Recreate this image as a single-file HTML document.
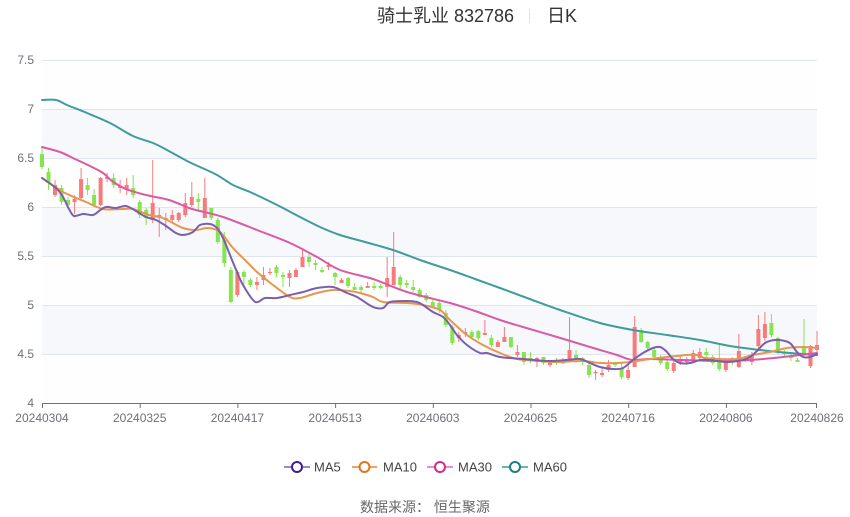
<!DOCTYPE html>
<html>
<head>
<meta charset="utf-8">
<style>
html,body{margin:0;padding:0;background:#fff;}
body{width:850px;height:517px;overflow:hidden;position:relative;font-family:"Liberation Sans","Noto Sans CJK SC",sans-serif;}
svg text{font-family:"Liberation Sans","Noto Sans CJK SC",sans-serif;}
</style>
</head>
<body>
<svg id="c" width="850" height="517" viewBox="0 0 850 517" xmlns="http://www.w3.org/2000/svg" style="position:absolute;left:0;top:0">
  <!-- title -->
  <text x="377" y="22" font-size="18" fill="#333">骑士乳业 832786</text>
  <line x1="529.5" y1="9" x2="529.5" y2="23" stroke="#e2e2e2" stroke-width="1"/>
  <text x="547" y="22" font-size="18" fill="#333">日K</text>

  <!-- split areas -->
  <rect x="42" y="60" width="775" height="49" fill="#fefefe"/>
  <rect x="42" y="109" width="775" height="49" fill="#f6f8fc"/>
  <rect x="42" y="158" width="775" height="49" fill="#fefefe"/>
  <rect x="42" y="207" width="775" height="49" fill="#f6f8fc"/>
  <rect x="42" y="256" width="775" height="49" fill="#fefefe"/>
  <rect x="42" y="305" width="775" height="49" fill="#f6f8fc"/>
  <rect x="42" y="354" width="775" height="49" fill="#fefefe"/>

  <!-- grid lines -->
  <g stroke="#e0e6f1" stroke-width="1">
    <line x1="42" y1="60.5" x2="817" y2="60.5"/>
    <line x1="42" y1="109.5" x2="817" y2="109.5"/>
    <line x1="42" y1="158.5" x2="817" y2="158.5"/>
    <line x1="42" y1="207.5" x2="817" y2="207.5"/>
    <line x1="42" y1="256.5" x2="817" y2="256.5"/>
    <line x1="42" y1="305.5" x2="817" y2="305.5"/>
    <line x1="42" y1="354.5" x2="817" y2="354.5"/>
  </g>

  <!-- y labels -->
  <g font-size="12" fill="#6e7079" text-anchor="end">
    <text x="34" y="64">7.5</text>
    <text x="34" y="113">7</text>
    <text x="34" y="162">6.5</text>
    <text x="34" y="211">6</text>
    <text x="34" y="260">5.5</text>
    <text x="34" y="309">5</text>
    <text x="34" y="358">4.5</text>
    <text x="34" y="407">4</text>
  </g>

  <!-- x axis -->
  <line x1="42" y1="403.5" x2="817" y2="403.5" stroke="#6e7079" stroke-width="1"/>
  <g stroke="#6e7079" stroke-width="1">
    <line x1="42.5" y1="403" x2="42.5" y2="408"/>
    <line x1="140.2" y1="403" x2="140.2" y2="408"/>
    <line x1="237.9" y1="403" x2="237.9" y2="408"/>
    <line x1="335.6" y1="403" x2="335.6" y2="408"/>
    <line x1="433.3" y1="403" x2="433.3" y2="408"/>
    <line x1="531" y1="403" x2="531" y2="408"/>
    <line x1="628.7" y1="403" x2="628.7" y2="408"/>
    <line x1="726.4" y1="403" x2="726.4" y2="408"/>
    <line x1="816.5" y1="403" x2="816.5" y2="408"/>
  </g>
  <g font-size="12" fill="#6e7079" text-anchor="middle">
    <text x="42" y="422">20240304</text>
    <text x="139.7" y="422">20240325</text>
    <text x="237.4" y="422">20240417</text>
    <text x="335.1" y="422">20240513</text>
    <text x="432.8" y="422">20240603</text>
    <text x="530.5" y="422">20240625</text>
    <text x="628.2" y="422">20240716</text>
    <text x="725.9" y="422">20240806</text>
    <text x="817" y="422">20240826</text>
  </g>

  <g id="cand"></g>
  <g id="lines" fill="none" stroke-width="2" stroke-linejoin="round" stroke-linecap="round"></g>

  <!-- legend -->
  <g stroke-width="2">
    <line x1="284" y1="467" x2="310" y2="467" stroke="#9d88cf"/>
    <circle cx="297" cy="467" r="5" fill="#fff" stroke="#3f1d8e"/>
    <line x1="352" y1="467" x2="377" y2="467" stroke="#efa466"/>
    <circle cx="364.5" cy="467" r="5" fill="#fff" stroke="#e0761c"/>
    <line x1="427" y1="467" x2="453" y2="467" stroke="#e88fc5"/>
    <circle cx="440" cy="467" r="5" fill="#fff" stroke="#d22c8c"/>
    <line x1="502" y1="467" x2="528" y2="467" stroke="#6db4b4"/>
    <circle cx="515" cy="467" r="5" fill="#fff" stroke="#1c7f7f"/>
  </g>
  <g font-size="13" fill="#444">
    <text x="314" y="471.5">MA5</text>
    <text x="383" y="471.5">MA10</text>
    <text x="458" y="471.5">MA30</text>
    <text x="533" y="471.5">MA60</text>
  </g>

  <!-- footer -->
  <text x="425" y="512" font-size="14" fill="#666" text-anchor="middle">数据来源： 恒生聚源</text>
</svg>
<script>
(function(){
  var NS="http://www.w3.org/2000/svg";
  // i, color(r/g), bodyTop, bodyBottom, wickTop, wickBottom (pixel y)
  var C=[
  ['g',154,167,148,169],['g',172,183,168,190],['r',185,195,180,197],['g',188,202,185,205],['g',200,205,197,208],
  ['r',199,202,195,214],['r',179,198,168,199],['g',185,190,178,195],['g',195,205,189,207],['r',178,205,177,206],
  ['r',177,179,173,182],['g',178,185,173,188],['r',186,188,180,193],['r',185,190,178,195],['g',188,195,175,198],
  ['g',202,215,200,218],['g',210,218,208,225],['r',203,220,160,223],['r',215,218,208,237],['r',218,220,213,230],
  ['r',215,220,210,222],['r',213,220,212,222],['r',203,215,193,217],['r',197,205,182,207],['g',199,202,193,212],
  ['r',198,218,178,218],['g',208,218,208,220],['g',220,242,218,244],['g',240,263,232,267],['g',270,302,267,303],
  ['r',272,295,270,297],['g',272,277,270,285],['g',280,285,278,287],['r',282,285,277,290],['r',275,280,267,285],
  ['r',272,273,268,275],['g',267,273,265,277],['g',275,277,272,287],['r',273,278,270,287],['r',270,277,268,277],
  ['r',257,267,248,267],['g',257,262,252,267],['g',263,265,260,270],['g',270,272,267,273],['r',265,267,262,270],
  ['g',273,277,272,285],['r',280,283,278,283],['g',278,286,277,288],['g',287,290,283,290],['g',287,290,285,293],
  ['r',286,288,282,288],['g',286,288,282,290],['g',286,288,284,289],['r',278,287,257,297],['r',267,285,232,285],
  ['g',277,285,275,290],['g',283,285,280,288],['g',287,290,280,292],['g',290,297,288,298],['g',295,300,293,302],
  ['g',302,307,300,308],['g',303,310,300,313],['g',313,325,310,327],['g',327,343,325,345],['r',335,338,332,342],
  ['r',332,334,328,337],['g',332,337,330,338],['g',331,338,330,340],['r',333,335,320,335],['g',338,345,335,347],
  ['r',342,347,340,347],['r',337,342,327,342],['g',337,347,337,348],['r',352,355,345,357],['g',352,362,352,365],
  ['g',358,360,352,363],['r',358,362,357,367],['g',357,363,357,365],['r',362,365,360,367],['g',360,362,358,365],
  ['r',360,363,358,364],['r',350,362,317,362],['g',355,358,350,363],['g',358,360,357,365],['g',365,375,363,378],
  ['r',372,373,370,380],['r',373,375,368,377],['r',365,370,360,372],['g',363,365,362,367],['g',368,377,362,379],
  ['r',370,378,363,380],['r',327,367,316,367],['g',330,342,328,343],['g',342,348,341,350],['g',350,357,348,360],
  ['g',357,363,355,365],['g',362,369,360,371],['r',363,371,360,373],['r',359,362,356,365],['r',359,362,357,365],
  ['r',353,360,350,363],['r',352,358,348,361],['g',352,355,348,357],['g',357,363,355,365],['g',360,369,343,371],
  ['r',360,370,358,372],['g',358,362,357,365],['r',351,367,334,368],['g',358,361,356,362],['r',356,362,352,365],
  ['r',329,346,315,350],['r',324,338,312,341],['g',323,335,314,337],['g',338,351,337,354],['g',352,354,350,356],
  ['g',356,358,353,361],['g',360,362,358,362],['g',348,355,319,357],['r',346,366,345,368],['r',345,350,331,353]
  ];
  var g=document.getElementById('cand');
  var step=775/119;
  for(var i=0;i<C.length;i++){
    var c=C[i], x=42+i*step;
    var col=c[0]==='r'?'#f77b7b':'#86e44e';
    var l=document.createElementNS(NS,'line');
    l.setAttribute('x1',x);l.setAttribute('x2',x);
    l.setAttribute('y1',c[3]);l.setAttribute('y2',c[4]);
    l.setAttribute('stroke',col);l.setAttribute('stroke-width','1');
    g.appendChild(l);
    var r=document.createElementNS(NS,'rect');
    var h=Math.max(1,c[2]-c[1]);
    r.setAttribute('x',x-2);r.setAttribute('y',c[1]);
    r.setAttribute('width',4);r.setAttribute('height',h);
    r.setAttribute('fill',col);
    g.appendChild(r);
  }
  function smooth(p){
    var d='M'+p[0][0]+','+p[0][1];
    for(var i=0;i<p.length-1;i++){
      var p0=p[i>0?i-1:i],p1=p[i],p2=p[i+1],p3=p[i+2<p.length?i+2:i+1];
      var t=0.16;
      var c1x=p1[0]+(p2[0]-p0[0])*t,c1y=p1[1]+(p2[1]-p0[1])*t;
      var c2x=p2[0]-(p3[0]-p1[0])*t,c2y=p2[1]-(p3[1]-p1[1])*t;
      d+=' C'+c1x.toFixed(1)+','+c1y.toFixed(1)+' '+c2x.toFixed(1)+','+c2y.toFixed(1)+' '+p2[0]+','+p2[1];
    }
    return d;
  }
  var MA60=[[42,100],[56,100],[67,105],[87,113],[110,123],[133,136],[153,143],[167,150],[187,161],[200,167],[217,175],[233,185],[250,192],[267,200],[283,208],[300,217],[320,227],[340,235],[365,242],[393,250],[420,260],[450,270],[475,279],[500,288],[527,298],[560,310],[600,323],[633,330],[667,335],[700,340],[730,346],[760,350],[790,353],[817,355]];
  var MA30=[[42,147],[60,152],[75,159],[90,166],[103,173],[112,181],[126,189],[146,195],[169,200],[189,208],[200,211],[223,217],[257,230],[290,243],[317,257],[340,270],[373,279],[407,292],[450,303],[475,311],[500,320],[523,327],[557,337],[590,347],[617,355],[632,360],[650,359],[683,360],[717,361],[750,360],[783,357],[817,353]];
  var MA10=[[42,178],[63,192],[86,202],[103,209],[123,209],[133,209],[149,215],[163,218],[183,228],[196,230],[207,228],[217,230],[223,235],[233,248],[247,262],[257,272],[273,285],[290,297],[300,298],[317,293],[333,290],[350,291],[360,293],[373,297],[383,302],[407,303],[423,305],[440,310],[450,320],[467,335],[483,345],[500,353],[517,359],[540,361],[557,362],[583,361],[600,363],[617,363],[630,362],[650,359],[667,357],[687,355],[697,355],[705,358],[720,359],[737,359],[753,355],[770,352],[787,348],[803,347],[817,348]];
  var MA5=[[42,178],[56,188],[63,197],[69,209],[74,216],[83,214],[93,215],[99,211],[106,207],[116,208],[126,206],[136,211],[146,217],[156,220],[166,226],[176,233],[183,235],[193,232],[200,225],[210,224],[217,228],[223,238],[230,255],[237,272],[243,285],[253,300],[258,302],[265,298],[277,298],[290,295],[303,292],[317,288],[333,287],[347,293],[357,297],[373,307],[383,308],[390,302],[407,301],[417,302],[423,305],[433,312],[443,317],[450,325],[457,335],[467,345],[480,353],[487,353],[500,357],[523,359],[547,361],[567,360],[580,359],[590,363],[600,367],[613,369],[623,368],[633,360],[643,353],[653,348],[660,347],[666,351],[673,359],[680,363],[690,363],[700,360],[710,360],[727,362],[743,360],[750,357],[757,351],[765,343],[775,340],[785,341],[791,344],[797,352],[803,357],[810,357],[817,354]];
  var L=document.getElementById('lines');
  [[MA60,'#3f9c9c'],[MA30,'#d95aa5'],[MA10,'#e6974f'],[MA5,'#7b5fae']].forEach(function(s){
    var p=document.createElementNS(NS,'path');
    p.setAttribute('d',smooth(s[0]));
    p.setAttribute('stroke',s[1]);
    L.appendChild(p);
  });
})();
</script>
</body>
</html>
